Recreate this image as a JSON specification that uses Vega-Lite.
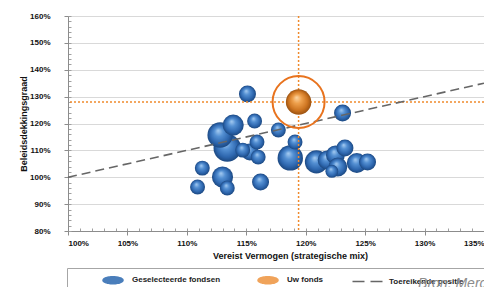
{
  "$schema": "https://vega.github.io/schema/vega-lite/v6.json",
  "width": 416,
  "height": 215,
  "autosize": "none",
  "padding": {"left": 68, "top": 16, "right": 0, "bottom": 56},
  "background": "white",
  "config": {
    "view": {"stroke": null},
    "font": "Liberation Sans",
    "axis": {"labelFont": "Liberation Sans", "titleFont": "Liberation Sans"}
  },
  "title": {
    "text": "Bron: Mercer",
    "orient": "bottom",
    "anchor": "end",
    "frame": "group",
    "fontStyle": "italic",
    "fontWeight": "normal",
    "fontSize": 14,
    "color": "#8c8c8c",
    "offset": -17,
    "dx": 15
  },
  "datasets": {
    "fondsen": [
      {"x": 113.4, "y": 110.9, "omvang": 6.8},
      {"x": 112.8, "y": 115.7, "omvang": 5.8},
      {"x": 118.7, "y": 107.2, "omvang": 5.8},
      {"x": 113.9, "y": 119.4, "omvang": 4.0},
      {"x": 113.0, "y": 100.1, "omvang": 4.0},
      {"x": 120.9, "y": 105.7, "omvang": 4.8},
      {"x": 121.8, "y": 106.4, "omvang": 3.2},
      {"x": 115.1, "y": 131.0, "omvang": 2.6},
      {"x": 115.3, "y": 109.4, "omvang": 2.6},
      {"x": 116.2, "y": 98.2, "omvang": 2.6},
      {"x": 123.1, "y": 123.9, "omvang": 2.6},
      {"x": 122.5, "y": 108.3, "omvang": 3.2},
      {"x": 122.7, "y": 103.8, "omvang": 3.2},
      {"x": 124.3, "y": 105.3, "omvang": 3.6},
      {"x": 115.7, "y": 120.9, "omvang": 2.0},
      {"x": 115.9, "y": 113.1, "omvang": 2.0},
      {"x": 116.0, "y": 107.5, "omvang": 2.0},
      {"x": 117.7, "y": 117.6, "omvang": 2.0},
      {"x": 111.3, "y": 103.4, "omvang": 2.0},
      {"x": 113.4, "y": 96.0, "omvang": 2.0},
      {"x": 110.9, "y": 96.4, "omvang": 2.0},
      {"x": 114.7, "y": 110.1, "omvang": 2.0},
      {"x": 119.1, "y": 113.1, "omvang": 2.0},
      {"x": 123.3, "y": 110.9, "omvang": 2.6},
      {"x": 125.2, "y": 105.7, "omvang": 2.6},
      {"x": 122.2, "y": 102.2, "omvang": 1.5}
    ],
    "uwfonds": [{"x": 119.4, "y": 128.0, "omvang": 5.8}],
    "lijn": [
      {"x": 100, "y": 100, "type": "Toereikende positie"},
      {"x": 135, "y": 135, "type": "Toereikende positie"}
    ]
  },
  "resolve": {"axis": {"x": "independent", "y": "independent"}},
  "layer": [
    {
      "data": {"name": "fondsen"},
      "mark": {
        "type": "point",
        "shape": "circle",
        "filled": true,
        "opacity": 1,
        "strokeWidth": 0,
        "fill": {
          "gradient": "radial",
          "x1": 0.42, "y1": 0.32, "r1": 0,
          "x2": 0.5, "y2": 0.5, "r2": 0.5,
          "stops": [
            {"offset": 0, "color": "#a8cdf2"},
            {"offset": 0.35, "color": "#5490d3"},
            {"offset": 0.75, "color": "#2d66ae"},
            {"offset": 1, "color": "#1c4880"}
          ]
        }
      },
      "encoding": {
        "x": {"field": "x", "type": "quantitative", "axis": null,
              "scale": {"domain": [100, 135], "nice": false, "zero": false}},
        "y": {"field": "y", "type": "quantitative", "axis": null,
              "scale": {"domain": [80, 160], "nice": false, "zero": false}},
        "size": {"field": "omvang", "type": "quantitative", "legend": null,
                 "scale": {"domain": [0, 7], "range": [0, 780]}}
      }
    },
    {
      "data": {"name": "uwfonds"},
      "mark": {"type": "rule", "color": "#F08A2C", "strokeWidth": 1.5, "strokeDash": [2, 2]},
      "encoding": {
        "y": {"field": "y", "type": "quantitative",
              "axis": {"values": [80,82,84,86,88,90,92,94,96,98,100,102,104,106,108,110,112,114,116,118,120,122,124,126,128,130,132,134,136,138,140,142,144,146,148,150,152,154,156,158,160],
                       "labels": false, "grid": false, "domain": false, "title": null,
                       "tickSize": -3, "tickColor": "#a0a0a0", "orient": "left"}}
      }
    },
    {
      "data": {"name": "uwfonds"},
      "mark": {"type": "rule", "color": "#F08A2C", "strokeWidth": 1.5, "strokeDash": [2, 2]},
      "encoding": {
        "x": {"field": "x", "type": "quantitative",
              "axis": {"values": [100,101,102,103,104,105,106,107,108,109,110,111,112,113,114,115,116,117,118,119,120,121,122,123,124,125,126,127,128,129,130,131,132,133,134,135],
                       "labels": false, "grid": false, "domain": false, "title": null,
                       "tickSize": -3, "tickColor": "#a0a0a0", "orient": "bottom"}}
      }
    },
    {
      "data": {"name": "lijn"},
      "mark": {"type": "line", "strokeWidth": 1.6, "strokeDash": [9, 5]},
      "encoding": {
        "x": {"field": "x", "type": "quantitative",
              "axis": {"orient": "bottom", "values": [100, 105, 110, 115, 120, 125, 130, 135],
                       "labelExpr": "datum.value + '%'",
                       "labelFontSize": 8, "labelFontWeight": "bold", "labelColor": "#111111",
                       "tickSize": 4, "tickColor": "#8c8c8c", "domainColor": "#8c8c8c",
                       "labelPadding": 4, "grid": false,
                       "title": "Vereist Vermogen (strategische mix)",
                       "titleFontSize": 9, "titleFontWeight": "bold", "titleColor": "#111111",
                       "titlePadding": 4, "titleX": 222}},
        "y": {"field": "y", "type": "quantitative",
              "axis": {"orient": "left", "values": [80, 90, 100, 110, 120, 130, 140, 150, 160],
                       "labelExpr": "datum.value + '%'",
                       "labelFontSize": 8, "labelFontWeight": "bold", "labelColor": "#111111",
                       "tickSize": 4, "tickColor": "#8c8c8c", "domainColor": "#8c8c8c",
                       "labelPadding": 14,
                       "grid": true, "gridColor": "#d9d9d9",
                       "title": "Beleidsdekkingsgraad",
                       "titleFontSize": 9, "titleFontWeight": "bold", "titleColor": "#111111",
                       "titlePadding": 1}},
        "color": {
          "field": "type", "type": "nominal",
          "scale": {"domain": ["Geselecteerde fondsen", "Uw fonds", "Toereikende positie"],
                    "range": ["#4a7ebb", "#f0a35a", "#666666"]},
          "legend": {
            "orient": "none", "legendX": -1, "legendY": 252,
            "direction": "horizontal", "columns": 3,
            "title": " ", "titleOrient": "right", "titlePadding": 24,
            "padding": 6, "strokeColor": "#a6a6a6", "fillColor": "white",
            "symbolSize": 100, "symbolOffset": 34, "columnPadding": 7, "labelOffset": 13,
            "symbolStrokeWidth": 1.5,
            "labelFont": "Liberation Sans", "labelFontSize": 8, "labelFontWeight": "bold", "labelColor": "#222222",
            "encode": {
              "symbols": {
                "update": {
                  "shape": {"signal": "datum.value === 'Toereikende positie' ? 'M-3.5,0L2.5,0' : 'M-2,0A2,0.7,0,1,1,2,0A2,0.7,0,1,1,-2,0Z'"},
                  "fill": {"signal": "datum.value === 'Toereikende positie' ? 'transparent' : scale('color', datum.value)"},
                  "stroke": {"signal": "datum.value === 'Toereikende positie' ? '#555555' : 'transparent'"},
                  "strokeWidth": {"value": 1.5},
                  "strokeDash": {"signal": "datum.value === 'Toereikende positie' ? [12, 6] : [1, 0]"},
                  "size": {"value": 100},
                  "opacity": {"value": 1}
                }
              }
            }
          }
        }
      }
    },
    {
      "data": {"name": "uwfonds"},
      "mark": {
        "type": "point",
        "shape": "circle",
        "filled": true,
        "opacity": 1,
        "strokeWidth": 0,
        "fill": {
          "gradient": "radial",
          "x1": 0.42, "y1": 0.32, "r1": 0,
          "x2": 0.5, "y2": 0.5, "r2": 0.5,
          "stops": [
            {"offset": 0, "color": "#fcd6a4"},
            {"offset": 0.35, "color": "#eea04c"},
            {"offset": 0.75, "color": "#cd7420"},
            {"offset": 1, "color": "#9a5212"}
          ]
        }
      },
      "encoding": {
        "x": {"field": "x", "type": "quantitative", "axis": null},
        "y": {"field": "y", "type": "quantitative", "axis": null},
        "size": {"field": "omvang", "type": "quantitative", "legend": null}
      }
    },
    {
      "data": {"name": "uwfonds"},
      "mark": {"type": "point", "shape": "circle", "filled": false, "opacity": 1,
               "stroke": "#E8731E", "strokeWidth": 2, "size": 2704},
      "encoding": {
        "x": {"field": "x", "type": "quantitative", "axis": null},
        "y": {"field": "y", "type": "quantitative", "axis": null}
      }
    }
  ]
}
